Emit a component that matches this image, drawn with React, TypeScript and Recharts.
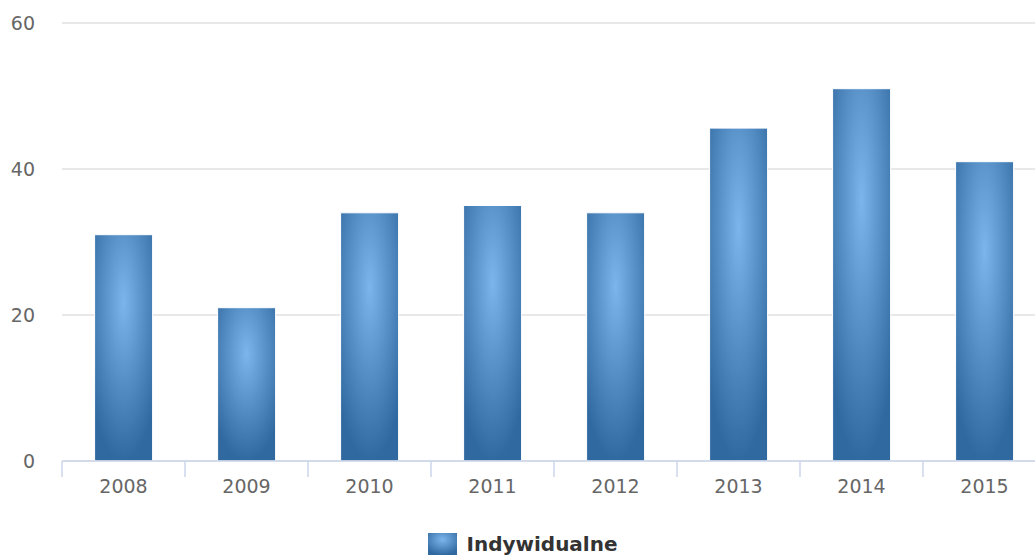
import React from 'react';
import { BarChart, Bar, XAxis, YAxis, CartesianGrid, Legend } from 'recharts';

const categories = ['2008', '2009', '2010', '2011', '2012', '2013', '2014', '2015'];
const values = [31, 21, 34, 35, 34, 45.6, 51, 41];
const yTicks = [0, 20, 40, 60];
const seriesName = 'Indywidualne';

const data = categories.map((year, i) => ({ year, value: values[i] }));

const FONT = '"DejaVu Sans", Verdana, sans-serif';
const AXIS_COLOR = '#ccd6eb';

const XTick = (props: any) => {
  const { x, y, payload, index } = props;
  const half = payload && payload.offset ? payload.offset : 61.5;
  const last = index === categories.length - 1;
  return (
    <g>
      <line x1={x - half} x2={x - half} y1={y} y2={y + 16} stroke={AXIS_COLOR} strokeWidth={1.5} />
      {last && (
        <line x1={x + half - 0.5} x2={x + half - 0.5} y1={y} y2={y + 16} stroke={AXIS_COLOR} strokeWidth={1.5} />
      )}
      <text x={x} y={y + 25.5} dy="0.355em" textAnchor="middle" fill="#666666" fontSize={19} fontFamily={FONT}>
        {payload.value}
      </text>
    </g>
  );
};

const LegendContent = () => (
  <div
    style={{
      display: 'flex',
      justifyContent: 'center',
      alignItems: 'center',
      height: 45,
      paddingTop: 17,
      boxSizing: 'border-box',
      fontFamily: FONT,
    }}
  >
    <svg width={29} height={22} style={{ display: 'block', marginRight: 9 }}>
      <defs>
        <radialGradient id="legGrad" cx="0.5" cy="0.3" r="0.7">
          <stop offset="0%" stopColor="#7cb5ec" />
          <stop offset="100%" stopColor="#3069a0" />
        </radialGradient>
      </defs>
      <rect x={0} y={0} width={29} height={22} fill="url(#legGrad)" />
    </svg>
    <span style={{ fontSize: 20, fontWeight: 'bold', color: '#333333', lineHeight: '24px' }}>
      {seriesName}
    </span>
  </div>
);

export default function App() {
  return (
    <div
      style={{
        position: 'absolute',
        left: 0,
        top: 0,
        width: 1035,
        height: 558,
        overflow: 'hidden',
        background: '#fff',
      }}
    >
      <BarChart
        width={1046}
        height={558}
        data={data}
        margin={{ top: 23, right: 0, left: 0, bottom: 0 }}
        barCategoryGap="26.5%"
      >
        <defs>
          <radialGradient id="barGrad" cx="0.5" cy="0.3" r="0.7">
            <stop offset="0%" stopColor="#7cb5ec" />
            <stop offset="100%" stopColor="#3069a0" />
          </radialGradient>
        </defs>
        <CartesianGrid vertical={false} stroke="#e0e0e0" strokeWidth={1.5} />
        <XAxis
          dataKey="year"
          height={52}
          axisLine={{ stroke: AXIS_COLOR, strokeWidth: 1.5 }}
          tickLine={false}
          tickSize={0}
          tickMargin={0}
          tick={<XTick />}
          interval={0}
        />
        <YAxis
          width={62}
          domain={[0, 60]}
          ticks={yTicks}
          axisLine={false}
          tickLine={false}
          tickSize={0}
          tickMargin={27}
          tick={{ fill: '#666666', fontSize: 19, fontFamily: FONT }}
        />
        <Legend verticalAlign="bottom" height={45} content={<LegendContent />} />
        <Bar
          dataKey="value"
          name={seriesName}
          fill="url(#barGrad)"
          stroke="#ffffff"
          strokeWidth={1}
          isAnimationActive={false}
        />
      </BarChart>
    </div>
  );
}
